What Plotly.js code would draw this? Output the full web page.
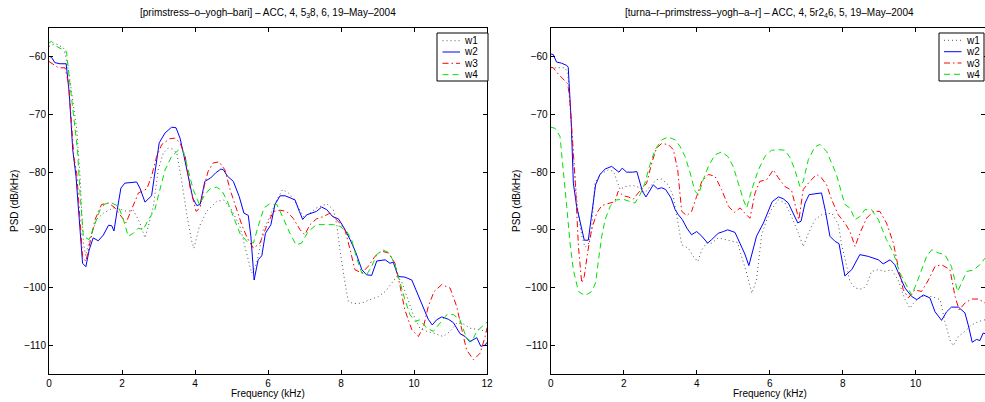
<!DOCTYPE html>
<html><head><meta charset="utf-8">
<script src="https://cdn.plot.ly/plotly-3.0.1.min.js"></script>
<style>html,body{margin:0;padding:0;background:#fff}#chart{width:985px;height:402px}</style>
</head><body><div id="chart"></div>
<script>
// ---------- Left panel: [primstress-o-yogh-bari] ----------
const leftW1F = [0,0.08,0.22,0.4,0.45,0.55,0.65,0.76,0.85,0.94,1.0,1.1,1.3,1.49,1.76,1.94,2.13,2.31,2.49,2.63,2.72,2.86,2.99,3.13,3.27,3.39,3.5,3.63,3.77,3.91,3.97,4.12,4.32,4.59,4.78,5.0,5.23,5.42,5.55,5.69,5.87,6.05,6.24,6.4,6.56,6.74,6.97,7.15,7.33,7.61,7.79,7.88,7.97,8.11,8.2,8.34,8.57,8.8,9.02,9.21,9.39,9.53,9.66,9.8,9.98,10.16,10.35,10.58,10.8,10.99,11.17,11.35,11.53,11.76,12];
const leftW1 = [-58.2,-57.9,-57.8,-58.5,-59.7,-63,-67.5,-72.6,-80.7,-92,-94.5,-92,-88.2,-87.1,-86.2,-86.4,-86.8,-86.6,-88.8,-91.4,-89.4,-85.9,-79.6,-76.7,-75.8,-76.0,-76.7,-81.3,-87.1,-92.0,-93.2,-89.4,-86.8,-85.1,-84.8,-86.5,-89.4,-94.0,-97.5,-95.8,-90.0,-87.7,-84.8,-83.0,-83.6,-85.1,-87.7,-87.1,-86.2,-85.5,-86.5,-89,-93.45,-99.2,-102.4,-102.8,-102.7,-102.1,-101.6,-100.7,-99.2,-98.1,-98.95,-101.55,-104.7,-107.05,-107.6,-108.0,-108.5,-107.6,-106.2,-106.3,-107.05,-107.3,-107.6];

const leftW2F = [0,0.07,0.16,0.3,0.47,0.55,0.6,0.65,0.74,0.85,0.92,1.01,1.1,1.21,1.35,1.49,1.63,1.72,1.78,1.87,1.97,2.08,2.4,2.49,2.63,2.81,2.9,3.02,3.18,3.36,3.48,3.59,3.7,3.82,3.94,4.05,4.14,4.27,4.43,4.57,4.71,4.78,4.89,5.05,5.21,5.34,5.46,5.53,5.62,5.73,5.83,5.93,6.08,6.19,6.33,6.47,6.6,6.74,6.86,6.95,7.06,7.22,7.33,7.47,7.61,7.77,7.93,8.06,8.25,8.41,8.57,8.7,8.84,8.98,9.21,9.34,9.43,9.57,9.75,9.94,10.07,10.26,10.39,10.5,10.62,10.76,10.94,11.08,11.26,11.4,11.53,11.72,11.83,11.95,12];
const leftW2 = [-59.9,-60.1,-61.0,-61.2,-61.2,-66,-70.9,-76.1,-80.7,-89,-95.8,-96.4,-93.5,-91.4,-91.9,-90.9,-89.2,-89.3,-90.2,-86.5,-82.75,-81.9,-81.7,-82.75,-85.2,-84.1,-80.1,-74.9,-73.2,-72.2,-72.3,-74.1,-77.25,-80.7,-84.5,-85.8,-85.6,-81.6,-81.0,-80.1,-79.45,-79.6,-80.7,-81.6,-84.2,-87.1,-87.5,-91.1,-98.7,-95.2,-94.5,-90.6,-89.1,-85.6,-84.1,-84.1,-84.5,-84.8,-86.8,-88.2,-87.4,-87.0,-86.8,-86.05,-86.5,-87.7,-88.1,-89.4,-91.7,-94.0,-96.9,-97.8,-97.9,-95.4,-95.2,-95.8,-95.6,-98.1,-98.2,-98.7,-100.7,-103.3,-105.5,-106.5,-105.6,-105.1,-105.5,-106.1,-108.0,-108.5,-109.4,-108.7,-110.2,-110.0,-109.5];

const leftW3F = [0,0.12,0.26,0.44,0.53,0.6,0.68,0.76,0.85,0.92,1.01,1.12,1.26,1.44,1.63,1.81,1.99,2.11,2.26,2.45,2.68,2.81,2.95,3.09,3.31,3.45,3.59,3.73,3.86,4.03,4.14,4.25,4.36,4.5,4.66,4.82,4.96,5.14,5.28,5.43,5.6,5.78,5.96,6.15,6.33,6.51,6.69,6.88,7.01,7.15,7.33,7.52,7.7,7.93,8.11,8.25,8.38,8.57,8.75,8.93,9.11,9.3,9.48,9.62,9.75,9.94,10.12,10.26,10.39,10.55,10.76,10.99,11.17,11.31,11.44,11.63,11.81,11.95,12];
const leftW3 = [-60.8,-61.3,-61.9,-61.9,-64.5,-70,-77.3,-80.2,-88,-94.6,-95.5,-92.3,-88.25,-85.6,-85.35,-86.2,-87.7,-88.8,-86.5,-83.6,-82.9,-80.7,-77.25,-75.2,-74.2,-74.1,-74.9,-77.25,-82.5,-86.8,-86.2,-82.5,-79.85,-78.4,-78.2,-79.6,-83.0,-86.5,-89.1,-91.4,-93.2,-92.3,-89.4,-86.8,-86.6,-86.8,-88.0,-90.0,-90.85,-89.1,-88.1,-87.7,-87.1,-88.6,-90.0,-93.45,-96.9,-97.5,-96.3,-94.6,-93.7,-94.0,-95.8,-99.8,-103.9,-107.3,-108.5,-106.8,-103.3,-100.7,-99.5,-100.1,-103.3,-107.3,-110.8,-112.55,-111.4,-108.5,-107];

const leftW4F = [0,0.07,0.21,0.48,0.57,0.66,0.78,0.85,0.94,1.1,1.26,1.4,1.53,1.72,1.9,2.04,2.17,2.31,2.45,2.58,2.72,2.9,3.04,3.18,3.36,3.54,3.68,3.82,3.95,4.12,4.27,4.41,4.59,4.73,4.87,5.05,5.23,5.42,5.6,5.73,5.89,6.04,6.24,6.42,6.6,6.77,6.92,7.1,7.33,7.61,7.79,7.97,8.16,8.29,8.43,8.57,8.7,8.84,8.98,9.14,9.32,9.48,9.62,9.75,9.89,10.03,10.16,10.35,10.53,10.71,10.9,11.08,11.26,11.44,11.58,11.72,11.9,12];
const leftW4 = [-57.6,-57.3,-58.2,-59.1,-64.5,-69.7,-76.1,-83.6,-91.1,-91.7,-88.8,-86.5,-85.5,-85.35,-85.9,-88.25,-91.1,-90.6,-89.7,-90.0,-88.25,-86.5,-83.0,-79.6,-77.25,-76.2,-76.4,-79.6,-83.0,-85.6,-83.9,-82.9,-82.6,-83.15,-84.8,-87.7,-90.6,-92.0,-92.3,-89.4,-86.2,-85.5,-85.6,-88.0,-90.6,-92.6,-92.3,-90.3,-89.1,-89.1,-89.1,-89.4,-90.3,-91.7,-94.9,-97.5,-97.8,-96.35,-94.3,-93.45,-94.0,-96.05,-99.2,-102.1,-104.7,-105.9,-105.6,-107.05,-107.6,-106.2,-104.7,-104.7,-105.6,-108.8,-109.4,-107.6,-106.5,-106];

// ---------- Right panel: [turna-r-primstress-yogh-a-r] ----------
const rightW1F = [0,0.07,0.39,0.47,0.55,0.65,0.75,0.85,0.94,1.03,1.12,1.21,1.35,1.58,1.72,1.81,1.9,2.04,2.26,2.45,2.58,2.72,2.9,3.04,3.22,3.36,3.48,3.59,3.77,3.91,4.03,4.14,4.27,4.41,4.59,4.78,4.96,5.12,5.23,5.37,5.51,5.64,5.78,5.92,6.05,6.24,6.42,6.6,6.79,6.92,7.06,7.24,7.42,7.7,7.88,7.97,8.1,8.2,8.34,8.55,8.66,8.79,8.98,9.16,9.34,9.52,9.71,9.84,9.98,10.16,10.44,10.67,10.8,10.94,11.03,11.17,11.35,11.53,11.72,11.9];
const rightW1 = [-61.9,-61.9,-61.9,-62.8,-70,-80,-87,-91,-93,-92.5,-90.0,-81.9,-80.4,-79.6,-79.85,-81.6,-83.0,-82.5,-82.3,-82.7,-83.6,-82.5,-81.3,-81.2,-82.2,-84.2,-88.25,-92.6,-93.2,-94.6,-95.5,-93.45,-92.3,-92.3,-91.4,-91.7,-92.0,-92.2,-94.6,-97.5,-101.0,-98.7,-90.85,-88.25,-86.5,-84.8,-85.35,-87.7,-90.6,-92.9,-90.6,-88.25,-87.4,-87.1,-89,-92.5,-96,-99,-100.1,-100.3,-99.5,-97.2,-96.9,-97.2,-96.9,-98.7,-102.1,-103.6,-102.4,-101.55,-101.55,-102.1,-105.9,-109.1,-110.1,-108.5,-107.6,-106.5,-105.9,-105.6];

const rightW2F = [0,0.07,0.16,0.3,0.44,0.48,0.56,0.62,0.71,0.83,0.92,1.03,1.12,1.23,1.35,1.49,1.67,1.81,1.87,1.96,2.08,2.24,2.36,2.45,2.51,2.61,2.72,2.81,2.93,3.04,3.15,3.3,3.41,3.5,3.61,3.73,3.86,4.0,4.14,4.3,4.41,4.59,4.73,4.85,5.05,5.19,5.32,5.43,5.52,5.64,5.83,5.95,6.07,6.24,6.37,6.51,6.65,6.77,6.86,6.97,7.08,7.24,7.42,7.53,7.65,7.79,7.9,8.06,8.25,8.47,8.7,8.98,9.11,9.3,9.43,9.57,9.71,9.89,10.03,10.21,10.39,10.53,10.71,10.85,10.98,11.17,11.35,11.44,11.55,11.67,11.76,11.85,11.9];
const rightW2 = [-59.5,-59.6,-60.9,-61.1,-61.5,-61.8,-70.9,-81.9,-85.9,-89.4,-91.8,-91.8,-87.7,-82.2,-80.4,-79.45,-79.0,-79.7,-80.0,-79.3,-80.0,-80.0,-79.9,-81.9,-83.3,-84.3,-83.0,-82.2,-82.9,-82.7,-83.0,-84.5,-86.5,-87.4,-88.25,-89.7,-90.85,-90.3,-91.1,-92.3,-91.7,-90.6,-90.3,-90.0,-90.45,-92.3,-94.2,-96.2,-94.0,-91.1,-88.8,-87.1,-85.1,-84.3,-84.6,-85.35,-87.1,-88.8,-88.5,-85.35,-83.9,-83.7,-83.6,-86.8,-91.1,-92.0,-92.4,-98.0,-96.9,-94.3,-94.6,-95.2,-95.9,-95.2,-96.05,-98.1,-100.1,-101.55,-102.1,-101.3,-101.8,-104.2,-105.7,-104.2,-103.4,-103.4,-104.4,-106.5,-109.5,-109.0,-109.2,-107.9,-108];

const rightW3F = [0,0.07,0.21,0.35,0.47,0.53,0.575,0.67,0.76,0.85,0.92,1.01,1.12,1.26,1.4,1.58,1.76,1.85,1.99,2.13,2.26,2.4,2.49,2.63,2.77,2.9,3.04,3.22,3.36,3.48,3.54,3.59,3.73,3.86,4.0,4.14,4.32,4.5,4.68,4.87,5.03,5.19,5.32,5.46,5.6,5.73,5.92,6.1,6.24,6.42,6.6,6.74,6.8,6.92,7.1,7.29,7.42,7.56,7.7,7.88,8.06,8.2,8.34,8.47,8.66,8.84,9.02,9.2,9.39,9.52,9.66,9.8,9.98,10.16,10.35,10.53,10.71,10.94,11.08,11.19,11.35,11.53,11.72,11.9];
const rightW3 = [-61.8,-61.9,-63.0,-63.9,-64.7,-67.9,-72,-81.3,-92.9,-99.2,-98.1,-94.0,-90.0,-87.1,-85.8,-85.5,-85.1,-83.3,-84.1,-84.3,-84.7,-83.6,-83.0,-81.9,-78.4,-75.8,-75.05,-75.2,-76.1,-79.6,-83.6,-86.8,-87.55,-86.8,-84.2,-81.6,-80.4,-80.7,-83.0,-85.9,-87.0,-86.2,-87.1,-88.0,-83.6,-81.6,-81.3,-79.6,-81.0,-82.5,-83.15,-86.5,-88.25,-83.0,-81.6,-80.4,-81.0,-82.2,-84.8,-87.4,-88.8,-90.3,-92.9,-90.6,-87.95,-86.8,-86.8,-88.8,-92.3,-96.35,-100.4,-101.8,-100.4,-100.7,-98.7,-96.35,-96.05,-96.9,-101.55,-103.9,-102.7,-102.0,-102.0,-102.7];

const rightW4F = [0,0.07,0.12,0.255,0.35,0.44,0.53,0.62,0.76,0.94,1.12,1.23,1.31,1.4,1.49,1.63,1.81,1.99,2.17,2.31,2.45,2.58,2.72,2.86,3.04,3.22,3.41,3.54,3.68,3.82,3.95,4.05,4.18,4.32,4.5,4.68,4.85,5.0,5.14,5.28,5.37,5.51,5.69,5.87,6.05,6.24,6.42,6.56,6.69,6.83,6.92,7.06,7.24,7.38,7.56,7.7,7.83,7.97,8.06,8.2,8.34,8.47,8.61,8.79,8.98,9.2,9.39,9.57,9.75,9.89,10.03,10.16,10.3,10.44,10.62,10.8,10.98,11.15,11.26,11.4,11.58,11.76,11.9];
const rightW4 = [-72.2,-72.3,-72.4,-73.8,-79.6,-86.0,-92.3,-96.9,-100.7,-101.4,-100.7,-99.2,-95.2,-91.1,-88.25,-85.9,-84.8,-84.7,-85.1,-85.35,-83.9,-81.9,-78.7,-76.1,-74.4,-73.9,-74.4,-75.5,-77.25,-80.1,-83.3,-83.9,-81.3,-79.0,-77.0,-76.5,-77.25,-79.0,-81.9,-84.8,-86.2,-83.0,-79.6,-77.25,-76.2,-76.1,-76.2,-77.5,-79.6,-82.5,-81.6,-77.8,-75.6,-75.2,-76.4,-78.4,-80.4,-83.6,-85.6,-86.2,-88.25,-87.7,-86.5,-86.5,-88.25,-91.7,-94.0,-97.5,-99.8,-101.3,-99.2,-96.9,-94.6,-93.45,-94.0,-94.3,-96.35,-100.7,-99.2,-97.2,-97.0,-96.05,-94.9];

const seriesNames = ['w1','w2','w3','w4'];
const leftTitle = '[primstress–o–yogh–bari] – ACC, 4, 5<sub>3</sub>8, 6, 19–May–2004';
const rightTitle = '[turna–r–primstress–yogh–a–r] – ACC, 4, 5r2<sub>4</sub>6, 5, 19–May–2004';
const xTitle = 'Frequency (kHz)';
const yTitle = 'PSD (dB/kHz)';

const styles = [
  {color:'#555555', dash:'1px,3px'},
  {color:'#0000ff', dash:'solid'},
  {color:'#ff0000', dash:'6px,3px,1.5px,3px'},
  {color:'#00e000', dash:'6px,4px'}
];
const leftData = [[leftW1F,leftW1],[leftW2F,leftW2],[leftW3F,leftW3],[leftW4F,leftW4]];
const rightData = [[rightW1F,rightW1],[rightW2F,rightW2],[rightW3F,rightW3],[rightW4F,rightW4]];

const traces = [];
leftData.forEach((d,i)=>traces.push({x:d[0],y:d[1],name:seriesNames[i],type:'scatter',mode:'lines',
  xaxis:'x',yaxis:'y',line:{color:styles[i].color,dash:styles[i].dash,width:1}}));
rightData.forEach((d,i)=>traces.push({x:d[0],y:d[1],name:seriesNames[i],type:'scatter',mode:'lines',
  xaxis:'x2',yaxis:'y2',line:{color:styles[i].color,dash:styles[i].dash,width:1}}));

const W=985,H=402, T=28, B=374, PH=B-T;
const px = v => v/W;           // pixel x -> paper x
const py = v => (B-v)/PH;      // pixel y -> paper y
const L0=49/W, L1=487/W, R0=550.7/W, R1=1;
const fnt = {family:'Liberation Sans, Arial, Helvetica, sans-serif', size:10, color:'#000'};
function xa(dom, rng, anchor){return {domain:dom, range:rng, anchor:anchor, dtick:2, tick0:0,
  showline:true, linecolor:'#000', linewidth:1, mirror:'ticks', ticks:'inside', ticklen:4, tickcolor:'#000',
  showgrid:false, zeroline:false, tickfont:fnt};}
function ya(anchor){return {domain:[0,1], range:[-115,-55], anchor:anchor, dtick:10, tick0:-60,
  showline:true, linecolor:'#000', linewidth:1, mirror:'ticks', ticks:'inside', ticklen:4, tickcolor:'#000',
  showgrid:false, zeroline:false, tickfont:fnt};}

// legend boxes (drawn as layout shapes + text)
const shapes = [], annotations = [];
function addLegend(box, lineX0, lineX1, textX, rowsY){
  shapes.push({type:'rect', xref:'paper', yref:'paper', x0:px(box[0]), x1:px(box[1]), y0:py(box[3]), y1:py(box[2]),
    line:{color:'#000', width:1}, fillcolor:'#fff', layer:'above'});
  seriesNames.forEach((n,i)=>{
    shapes.push({type:'line', xref:'paper', yref:'paper', x0:px(lineX0), x1:px(lineX1), y0:py(rowsY[i]), y1:py(rowsY[i]),
      line:{color:styles[i].color, dash:styles[i].dash, width:1}, layer:'above'});
    annotations.push({text:n, xref:'paper', yref:'paper', x:px(textX), y:py(rowsY[i]), xanchor:'left', yanchor:'middle',
      showarrow:false, font:fnt, borderpad:0});
  });
}
addLegend([437,488,33,81], 442.5, 460, 463, [40.7,52,63.3,74.7]);
addLegend([939,984,33,81], 944, 961.5, 965, [40.3,51.7,63,74.3]);

annotations.push(
  {text:leftTitle, xref:'paper', yref:'paper', x:(L0+L1)/2, y:py(13), xanchor:'center', yanchor:'middle', showarrow:false, font:fnt},
  {text:rightTitle, xref:'paper', yref:'paper', x:(R0+988.7/W)/2, y:py(13), xanchor:'center', yanchor:'middle', showarrow:false, font:fnt},
  {text:xTitle, xref:'paper', yref:'paper', x:(L0+L1)/2, y:py(393), xanchor:'center', yanchor:'middle', showarrow:false, font:fnt},
  {text:xTitle, xref:'paper', yref:'paper', x:(R0+988.7/W)/2, y:py(393), xanchor:'center', yanchor:'middle', showarrow:false, font:fnt},
  {text:yTitle, xref:'paper', yref:'paper', x:px(14), y:0.5, xanchor:'center', yanchor:'middle', textangle:-90, showarrow:false, font:fnt},
  {text:yTitle, xref:'paper', yref:'paper', x:px(516), y:0.5, xanchor:'center', yanchor:'middle', textangle:-90, showarrow:false, font:fnt}
);

const layout = {
  width:W, height:H, margin:{l:0,r:0,t:T,b:H-B}, paper_bgcolor:'#fff', plot_bgcolor:'#fff',
  font:fnt, showlegend:false,
  xaxis: xa([L0,L1],[0,12],'y'),
  yaxis: ya('x'),
  xaxis2: xa([R0,R1],[0,11.9],'y2'),
  yaxis2: ya('x2'),
  shapes: shapes,
  annotations: annotations
};
Plotly.newPlot('chart', traces, layout, {displayModeBar:false, staticPlot:true});
</script></body></html>
